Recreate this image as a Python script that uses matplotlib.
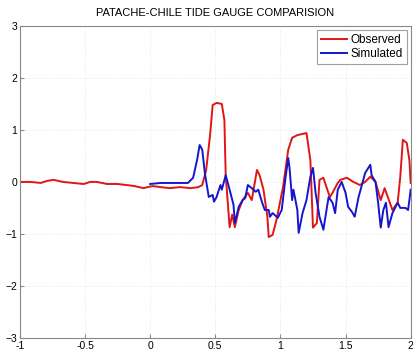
import matplotlib.pyplot as plt

# observed tide gauge record (time, amplitude)
obs_t = [-1.0, -0.92, -0.84, -0.79, -0.74, -0.67, -0.59, -0.51, -0.46, -0.41,
         -0.33, -0.25, -0.18, -0.12, -0.05, -0.02, 0.02, 0.08, 0.15, 0.23,
         0.31, 0.37, 0.40, 0.43, 0.46, 0.48, 0.51, 0.55, 0.57, 0.58,
         0.61, 0.63, 0.65, 0.68, 0.71, 0.75, 0.78, 0.82, 0.84, 0.87,
         0.90, 0.91, 0.94, 0.97, 1.02, 1.06, 1.09, 1.13, 1.20, 1.23,
         1.25, 1.28, 1.30, 1.33, 1.36, 1.38, 1.40, 1.44, 1.46, 1.51,
         1.56, 1.61, 1.65, 1.69, 1.73, 1.77, 1.80, 1.84, 1.86, 1.90,
         1.92, 1.94, 1.97, 1.99, 2.0]
obs_h = [0.0, 0.0, -0.02, 0.02, 0.04, 0.0, -0.02, -0.04, 0.0, 0.0,
         -0.04, -0.04, -0.06, -0.08, -0.12, -0.10, -0.08, -0.10, -0.12, -0.10,
         -0.12, -0.10, -0.06, 0.23, 0.90, 1.48, 1.52, 1.50, 1.19, 0.13,
         -0.87, -0.63, -0.87, -0.54, -0.35, -0.21, -0.35, 0.23, 0.13, -0.15,
         -0.67, -1.06, -1.02, -0.73, -0.10, 0.62, 0.85, 0.90, 0.94, 0.42,
         -0.88, -0.79, 0.04, 0.08, -0.15, -0.29, -0.21, -0.02, 0.04, 0.08,
         0.0, -0.06, 0.0, 0.10, 0.0, -0.35, -0.12, -0.40, -0.54, -0.40,
         0.10, 0.81, 0.75, 0.42, -0.02]

# simulated record
sim_t = [0.0, 0.08, 0.19, 0.29, 0.33, 0.36, 0.38, 0.40, 0.42, 0.45,
         0.48, 0.49, 0.51, 0.54, 0.55, 0.58, 0.61, 0.64, 0.65, 0.68,
         0.71, 0.73, 0.75, 0.78, 0.81, 0.83, 0.86, 0.88, 0.91, 0.92,
         0.94, 0.98, 1.01, 1.04, 1.06, 1.07, 1.09, 1.10, 1.13, 1.14,
         1.17, 1.20, 1.23, 1.25, 1.27, 1.30, 1.33, 1.35, 1.37, 1.40,
         1.42, 1.44, 1.47, 1.50, 1.52, 1.55, 1.57, 1.60, 1.63, 1.65,
         1.69, 1.70, 1.73, 1.75, 1.77, 1.79, 1.81, 1.83, 1.86, 1.90,
         1.92, 1.96, 1.98, 1.99, 2.0]
sim_h = [-0.04, -0.02, -0.02, -0.02, 0.08, 0.42, 0.71, 0.62, 0.17, -0.29,
         -0.25, -0.38, -0.29, -0.06, -0.15, 0.13, -0.15, -0.44, -0.79, -0.48,
         -0.35, -0.31, -0.06, -0.12, -0.19, -0.15, -0.40, -0.54, -0.54, -0.67,
         -0.60, -0.69, -0.54, 0.10, 0.46, 0.27, -0.35, -0.15, -0.54, -0.98,
         -0.60, -0.35, 0.10, 0.27, -0.21, -0.67, -0.92, -0.60, -0.29, -0.40,
         -0.60, -0.15, 0.0, -0.21, -0.48, -0.58, -0.67, -0.29, -0.02, 0.17,
         0.33, 0.13, 0.0, -0.40, -0.88, -0.54, -0.40, -0.87, -0.60, -0.40,
         -0.50, -0.50, -0.54, -0.35, -0.15]

plt.rcParams['font.family'] = ['Liberation Sans', 'DejaVu Sans']

fig = plt.figure(figsize=(4.14, 3.56), dpi=100)
ax = fig.add_axes([0.048, 0.051, 0.944, 0.876])

ax.plot(obs_t, obs_h, color='#e01515', lw=1.4, label='Observed')
ax.plot(sim_t, sim_h, color='#1515d0', lw=1.4, label='Simulated')

ax.set_xlim(-1, 2)
ax.set_ylim(-3, 3)
ax.set_xticks([-1, -0.5, 0, 0.5, 1, 1.5, 2])
ax.set_xticklabels(['-1', '-0.5', '0', '0.5', '1', '1.5', '2'])
ax.set_yticks([-3, -2, -1, 0, 1, 2, 3])
ax.tick_params(direction='in', length=3, labelsize=7.5, pad=2, color='#888888')
ax.grid(True, linestyle=':', color='#e4e4e4', lw=0.6)
for s in ax.spines.values():
    s.set_color('#888888')
    s.set_linewidth(0.8)

ax.set_title('PATACHE-CHILE TIDE GAUGE COMPARISION', fontsize=8, pad=7)
leg = ax.legend(loc='upper right', fontsize=8.5, frameon=True, fancybox=False,
                handlelength=2.2, handletextpad=0.3, borderpad=0.35,
                labelspacing=0.15, borderaxespad=0.35)
leg.get_frame().set_edgecolor('#888888')
leg.get_frame().set_linewidth(0.8)

fig.savefig('out.png', dpi=100)
